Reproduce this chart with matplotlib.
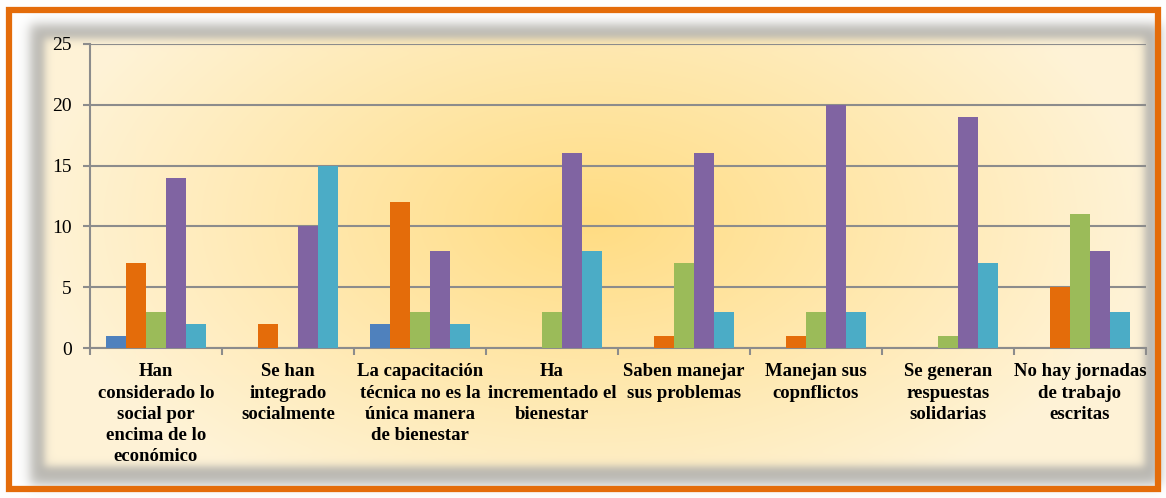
import numpy as np
import matplotlib
matplotlib.use("Agg")
import matplotlib.pyplot as plt

# data
categorias = [
    "Han\nconsiderado lo\nsocial por\nencima de lo\neconómico",
    "Se han\nintegrado\nsocialmente",
    "La capacitación\ntécnica no es la\núnica manera\nde bienestar",
    "Ha\nincrementado el\nbienestar",
    "Saben manejar\nsus problemas",
    "Manejan sus\ncopnflictos",
    "Se generan\nrespuestas\nsolidarias",
    "No hay jornadas\nde trabajo\nescritas",
]
serie1 = [1, 0, 2, 0, 0, 0, 0, 0]
serie2 = [7, 2, 12, 0, 1, 1, 0, 5]
serie3 = [3, 0, 3, 3, 7, 3, 1, 11]
serie4 = [14, 10, 8, 16, 16, 20, 19, 8]
serie5 = [2, 15, 2, 8, 3, 3, 7, 3]
series = [serie1, serie2, serie3, serie4, serie5]
colores = ["#4F81BD", "#E46C0A", "#9BBB59", "#8064A2", "#4BACC6"]
yticks = [0, 5, 10, 15, 20, 25]

W, H = 1166, 498
fig = plt.figure(figsize=(W / 100, H / 100), dpi=100)

# background: white, orange frame, shadowed panel with radial gradient
yy, xx = np.mgrid[0:H, 0:W].astype(float)

def soft_rect(x0, x1, y0, y1, s):
    fx = 0.5 * (np.tanh((xx - x0) / s) - np.tanh((xx - x1) / s))
    fy = 0.5 * (np.tanh((yy - y0) / s) - np.tanh((yy - y1) / s))
    return fx * fy

img = np.ones((H, W, 3))
shadow = soft_rect(30, 1160, 24, 484, 7) * 0.75
gray = np.array([0.62, 0.61, 0.58])
img = img * (1 - shadow[..., None]) + gray * shadow[..., None]

r = np.sqrt(((xx - 590) / 560) ** 2 + ((yy - 220) / 320) ** 2)
t = np.clip(r, 0, 1)[..., None]
c_in = np.array([255, 220, 130]) / 255
c_out = np.array([255, 243, 215]) / 255
grad = c_in * (1 - t) + c_out * t
panel = soft_rect(44, 1144, 38, 466, 5)[..., None]
img = img * (1 - panel) + grad * panel

bg = fig.add_axes([0, 0, 1, 1])
bg.imshow(img, extent=(0, W, H, 0), aspect="auto", zorder=0)
bg.add_patch(plt.Rectangle((8.5, 9.5), W - 17, H - 19, fill=False,
                           edgecolor="#E46C0A", linewidth=4.5))
bg.set_xlim(0, W)
bg.set_ylim(H, 0)
bg.axis("off")

ax = fig.add_axes([90 / W, 1 - 348 / H, 1056 / W, 304 / H])
ax.patch.set_alpha(0)

x = np.arange(len(categorias))
ancho = 0.153
for i, (vals, col) in enumerate(zip(series, colores)):
    ax.bar(x + (i - 2) * ancho, vals, ancho, color=col, linewidth=0, zorder=3)

ax.set_xlim(-0.5, len(categorias) - 0.5)
ax.set_ylim(0, 25)
ax.set_yticks(yticks)
ax.grid(axis="y", color="#8C8C8C", linewidth=1.5, zorder=1)
for s in ["top", "right"]:
    ax.spines[s].set_visible(False)
for s in ["left", "bottom"]:
    ax.spines[s].set_color("#8C8C8C")
    ax.spines[s].set_linewidth(1.5)

ax.set_xticks(x)
ax.set_xticklabels(categorias, fontsize=13.5, fontweight="bold",
                   family="Liberation Serif", linespacing=1.33)
ax.set_xticks(np.arange(-0.5, len(categorias)), minor=True)
ax.tick_params(axis="x", which="major", length=0, pad=11)
ax.tick_params(axis="x", which="minor", length=5, width=1.5, color="#8C8C8C")
ax.tick_params(axis="y", length=5, width=1.5, color="#8C8C8C", pad=8,
               labelsize=14)
for lab in ax.get_yticklabels():
    lab.set_family("Liberation Serif")

fig.savefig("out.png", dpi=100)
